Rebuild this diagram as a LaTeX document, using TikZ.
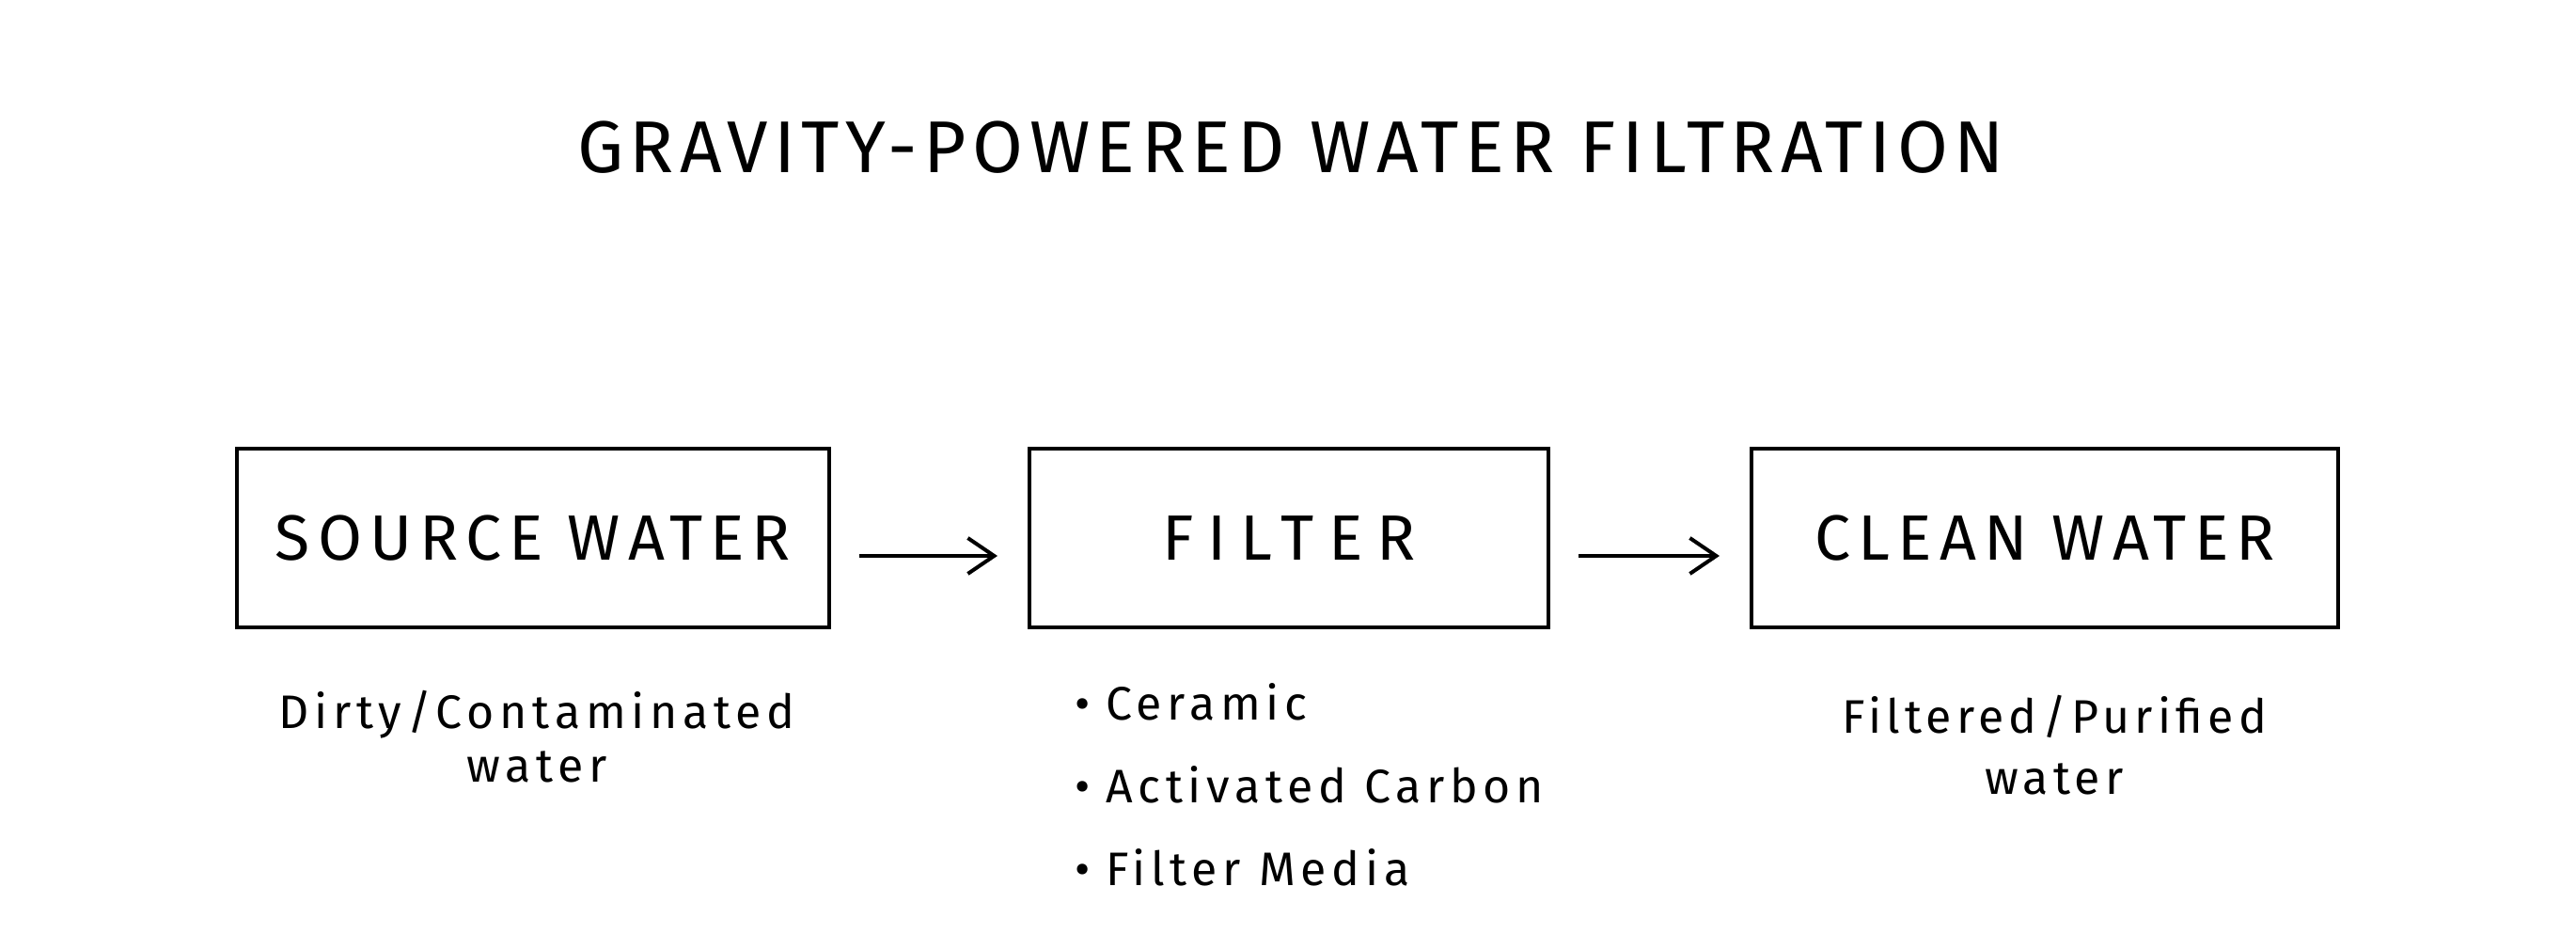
\documentclass[tikz,border=0pt]{standalone}
\usepackage{fontspec}
\setmainfont{Fira Sans}
\usepackage{tikz}
\usetikzlibrary{positioning, arrows.meta}

\tikzset{
  box/.style={draw, line width=2pt, minimum width=#1, minimum height=95pt,
    font=\fontsize{34}{38}\selectfont\addfontfeatures{LetterSpace=12}},
  box/.default=300pt,
  note/.style={align=center, font=\fontsize{25}{28.5}\selectfont\addfontfeatures{LetterSpace=11.5}},
  flow/.style={-{Straight Barb[length=14pt,width=19pt,line width=2pt]}, line width=2pt,
    shorten <=15pt, shorten >=16pt}
}

\begin{document}
\begin{tikzpicture}[node distance=402pt, on grid, x=1pt, y=1pt]
  \useasboundingbox (0,0) rectangle (1370,496);
  \node[font=\fontsize{39}{44}\selectfont\addfontfeatures{LetterSpace=8.3}] (title) at (686.5,417.5)
    {GRAVITY-POWERED WATER FILTRATION};

  \node[box=315pt] (source) at (283.5,210) {SOURCE WATER};
  \node[box=276pt, font=\fontsize{34}{38}\selectfont\addfontfeatures{LetterSpace=22}] (filter) [right=of source] {FILTER};
  \node[box=312pt] (clean) [right=of filter] {CLEAN WATER};

  \node[note] (sourcenote) [below=105.5pt of source, xshift=2pt] {Dirty/Contaminated\\water};
  \node[note, align=left, font=\fontsize{25}{44}\selectfont\addfontfeatures{LetterSpace=11.5}] (filternote)
    [below=131pt of filter, xshift=11pt]
    {•\hspace{8pt}Ceramic\\•\hspace{8pt}Activated Carbon\\•\hspace{8pt}Filter Media};
  \node[note, font=\fontsize{25}{32.5}\selectfont\addfontfeatures{LetterSpace=10.5}] (cleannote)
    [below=110pt of clean, xshift=5pt] {Filtered/Purified\\water};

  \path[flow]
    ([yshift=-9.5pt]source.east) edge ([yshift=-9.5pt]filter.west)
    ([yshift=-9.5pt]filter.east) edge ([yshift=-9.5pt]clean.west);
\end{tikzpicture}
\end{document}
